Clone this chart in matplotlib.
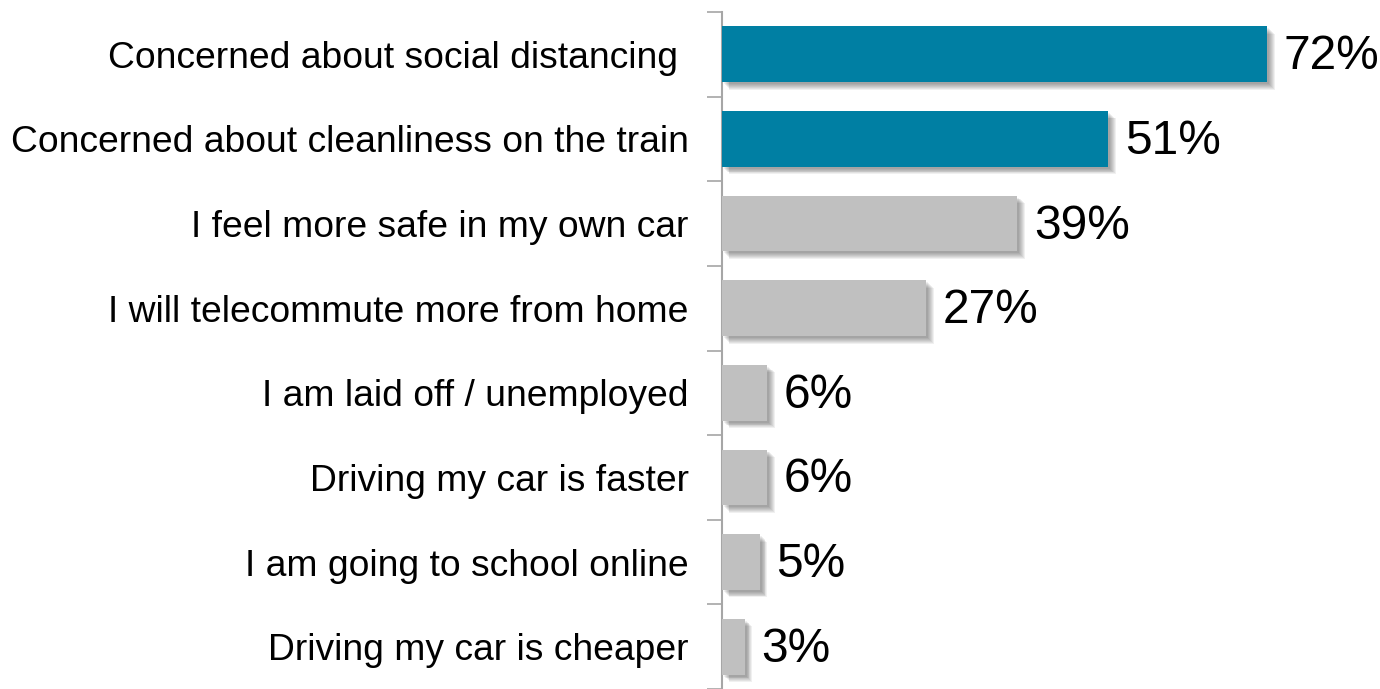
import matplotlib
matplotlib.use("Agg")
import matplotlib.pyplot as plt
import matplotlib.transforms as mtransforms
import numpy as np

plt.rcParams['font.family'] = ['Liberation Sans', 'DejaVu Sans']

reasons = [
    "Concerned about social distancing ",
    "Concerned about cleanliness on the train",
    "I feel more safe in my own car",
    "I will telecommute more from home",
    "I am laid off / unemployed",
    "Driving my car is faster",
    "I am going to school online",
    "Driving my car is cheaper",
]
percent = [72, 51, 39, 27, 6, 6, 5, 3]
highlight = [True, True, False, False, False, False, False, False]

teal = "#007fa3"
grey = "#c0c0c0"
axis_grey = "#a6a6a6"

fig = plt.figure(figsize=(13.8, 6.89), dpi=100)
ax = fig.add_axes([722 / 1380, 0.0, 1 - 722 / 1380, (689 - 12) / 689])

y = np.arange(len(reasons))
colors = [teal if h else grey for h in highlight]
bar_h = 0.66

# soft drop shadow: several offset translucent copies
for i in range(7):
    off = mtransforms.ScaledTranslation((2 + i * 0.9) / 100, -(2 + i * 0.9) / 100, fig.dpi_scale_trans)
    ax.barh(y, percent, height=bar_h, color="black", alpha=0.06,
            transform=ax.transData + off, zorder=1, linewidth=0)

ax.barh(y, percent, height=bar_h, color=colors, zorder=3, linewidth=0)

for yi, v in zip(y, percent):
    ax.text(v + 2.2, yi + 0.03, f"{v}%", va="center", ha="left", fontsize=34.5, color="black", zorder=4)

ax.set_ylim(len(reasons) - 0.5, -0.5)
ax.set_xlim(0, 86.9)

ax.set_yticks(y)
ax.set_yticklabels(reasons, fontsize=26.8)
ax.tick_params(axis="y", which="major", length=0, pad=24)
ax.set_yticks(np.arange(-0.5, len(reasons), 1.0), minor=True)
ax.tick_params(axis="y", which="minor", length=11, width=1.2, color=axis_grey, direction="out")
ax.set_xticks([])

for s in ["top", "right", "bottom"]:
    ax.spines[s].set_visible(False)
ax.spines["left"].set_color(axis_grey)
ax.spines["left"].set_linewidth(1.5)

fig.savefig("out.png", dpi=100)
